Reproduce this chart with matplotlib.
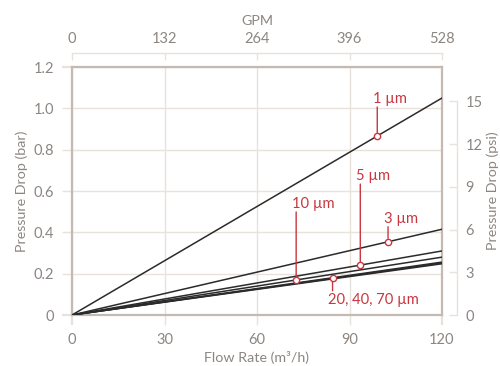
import numpy as np
import matplotlib
matplotlib.use("Agg")
import matplotlib.pyplot as plt

plt.rcParams["font.family"] = ["Lato", "DejaVu Sans"]

# data
flow_max = 120
labels = ["1 µm", "3 µm", "5 µm", "10 µm", "20 µm", "40 µm", "70 µm"]
drop_at_max = [1.05, 0.415, 0.31, 0.28, 0.256, 0.252, 0.248]  # bar at 120 m3/h
bar_ticks = [0, 0.2, 0.4, 0.6, 0.8, 1.0, 1.2]
bar_ticklabels = ["0", "0.2", "0.4", "0.6", "0.8", "1.0", "1.2"]
flow_ticks = [0, 30, 60, 90, 120]
gpm_ticks = [0, 132, 264, 396, 528]
psi_ticks = [0, 3, 6, 9, 12, 15]

# callouts: label, index of line, flow where the marker sits
callouts = [
    ("1 µm", 0, 99.0),
    ("3 µm", 1, 102.5),
    ("5 µm", 2, 93.5),
    ("10 µm", 3, 72.7),
    ("20, 40, 70 µm", 4, 84.5),
]

red = "#c8363f"
grey_txt = "#8c8682"
spine_c = "#c4bab4"
grid_c = "#e8e2dc"

fig = plt.figure(figsize=(5, 3.66), dpi=100)
ax = fig.add_axes([0.144, 0.1393, 0.74, 0.6776])

x = np.array([0, flow_max])
for v in drop_at_max:
    ax.plot(x, [0, v], color="#2b2b2b", lw=1.1, zorder=3)

ax.set_xlim(0, 120)
ax.set_ylim(0, 1.2)
ax.set_xticks(flow_ticks)
ax.set_yticks(bar_ticks)
ax.set_yticklabels(bar_ticklabels)
ax.grid(True, color=grid_c, lw=1, zorder=0)
ax.set_axisbelow(True)
for s in ax.spines.values():
    s.set_color(spine_c)
    s.set_linewidth(1.6)
ax.tick_params(direction="out", length=7, width=1, color=grid_c,
               labelcolor=grey_txt, labelsize=10.5, pad=6)
for t in [ax.xaxis.get_major_ticks()[0], ax.xaxis.get_major_ticks()[-1],
          ax.yaxis.get_major_ticks()[0], ax.yaxis.get_major_ticks()[-1]]:
    t.tick1line.set_color(spine_c)
    t.tick1line.set_markeredgewidth(1.6)
ax.set_xlabel("Flow Rate (m³/h)", color=grey_txt, fontsize=10.3, labelpad=3)
ax.set_ylabel("Pressure Drop (bar)", color=grey_txt, fontsize=10.3, labelpad=4)

# top GPM axis
top = ax.twiny()
top.set_xlim(0, 528)
top.set_xticks(gpm_ticks)
top.spines["top"].set_position(("outward", 10))
top.spines["top"].set_bounds(0, 528)
top.spines["top"].set_color(grid_c)
top.spines["top"].set_linewidth(1)
for k in ["left", "right", "bottom"]:
    top.spines[k].set_visible(False)
top.tick_params(axis="x", direction="in", length=5, width=1, color=grid_c,
                labelcolor=grey_txt, labelsize=10.5, pad=5)
top.set_xlabel("GPM", color=grey_txt, fontsize=10.3, labelpad=5)

# right psi axis
right = ax.twinx()
right.set_ylim(0, 1.2 * 14.5038)
right.set_yticks(psi_ticks)
right.spines["right"].set_position(("outward", 11))
right.spines["right"].set_bounds(0, 15)
right.spines["right"].set_color(grid_c)
right.spines["right"].set_linewidth(1)
for k in ["left", "top", "bottom"]:
    right.spines[k].set_visible(False)
right.tick_params(axis="y", direction="in", length=6, width=1, color=grid_c,
                  labelcolor=grey_txt, labelsize=10.5, pad=6)
right.set_ylabel("Pressure Drop (psi)", color=grey_txt, fontsize=10.3, labelpad=3)

# callouts
offsets = {"1 µm": 29, "3 µm": 15, "5 µm": 81, "10 µm": 68, "20, 40, 70 µm": -13}
for lab, i, fx in callouts:
    fy = drop_at_max[i] * fx / flow_max
    dy = offsets[lab]
    ax.annotate("", xy=(fx, fy), xytext=(0, dy), textcoords="offset pixels",
                arrowprops=dict(arrowstyle="-", color=red, lw=1, shrinkA=0, shrinkB=2.5),
                zorder=4)
    ax.plot(fx, fy, "o", ms=4.5, mfc="white", mec=red, mew=1, zorder=5)
    if dy > 0:
        ax.annotate(lab, xy=(fx, fy), xytext=(-4, dy + 1), textcoords="offset pixels",
                    ha="left", va="bottom", color=red, fontsize=10.6, zorder=5)
    else:
        ax.annotate(lab, xy=(fx, fy), xytext=(-5, dy - 2), textcoords="offset pixels",
                    ha="left", va="top", color=red, fontsize=10.6, zorder=5)

fig.savefig("out.png", dpi=100)
